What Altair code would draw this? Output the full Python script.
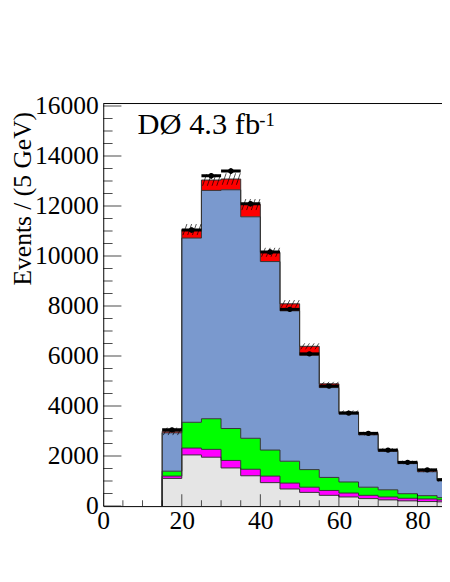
import altair as alt
import pandas as pd
import numpy as np

# bin edges (GeV)
edges = [15, 20, 25, 30, 35, 40, 45, 50, 55, 60, 65, 70, 75, 80, 85, 90]
# cumulative stack tops per bin
grey_top = [1108, 2047, 1956, 1526, 1213, 939, 685, 548, 430, 365, 300, 248, 209, 183, 170]
magenta_top = [1200, 2321, 2269, 1826, 1474, 1200, 920, 756, 626, 522, 430, 365, 313, 287, 248]
green_top = [1396, 3352, 3494, 3103, 2712, 2242, 1795, 1460, 1147, 965, 756, 652, 496, 418, 339]
blue_top = [2930, 10720, 12625, 12650, 11570, 9780, 7810, 6030, 4740, 3690, 2850, 2190, 1700, 1375, 1010]
red_top = [2990, 11060, 13040, 13080, 12060, 10150, 8090, 6390, 4890, 3760, 2900, 2250, 1750, 1430, 1050]
# systematic band half-width
band_unc = [150, 220, 230, 230, 220, 180, 150, 120, 80, 60, 60, 60, 60, 60, 60]
# data
data_vals = [3050, 11040, 13210, 13400, 12090, 10160, 7870, 6090, 4800, 3720, 2910, 2240, 1750, 1450, 1060]

x_ticks_major = [0, 20, 40, 60, 80]
y_ticks_major = [0, 2000, 4000, 6000, 8000, 10000, 12000, 14000, 16000]

comps = ["grey", "magenta", "green", "blue", "red"]
colors = ["#e5e5e5", "#ff00ff", "#00ff00", "#7a99ce", "#ff0000"]
tops = [grey_top, magenta_top, green_top, blue_top, red_top]

rows = []
for ci, name in enumerate(comps):
    hi = tops[ci]
    lo = [0] * len(hi) if ci == 0 else tops[ci - 1]
    idx = 0
    rows.append(dict(comp=name, idx=idx, x=edges[0], lo=0, hi=0, start=1)); idx += 1
    for i in range(len(hi)):
        rows.append(dict(comp=name, idx=idx, x=edges[i], lo=lo[i], hi=hi[i], start=0)); idx += 1
    rows.append(dict(comp=name, idx=idx, x=edges[-1], lo=lo[-1], hi=hi[-1], start=0))
step_df = pd.DataFrame(rows)

# hatch segments for band
hrows = []
for i in range(len(red_top)):
    lo_b = red_top[i] - band_unc[i]
    hi_b = red_top[i] + band_unc[i]
    for k in range(4):
        x0 = edges[i] + 0.3 + 1.2 * k
        hrows.append(dict(x=x0, x2=x0 + 1.0, y=lo_b, y2=hi_b))
hatch_df = pd.DataFrame(hrows)

data_df = pd.DataFrame(dict(
    x0=edges[:-1], x1=edges[1:],
    xc=[e + 2.5 for e in edges[:-1]],
    y=data_vals,
    ylo=[v - np.sqrt(v) for v in data_vals],
    yhi=[v + np.sqrt(v) for v in data_vals],
))

ytick_vals = list(range(0, 16001, 500))
ytick_df = pd.DataFrame(dict(v=ytick_vals, pos=0, len=[37 if v % 2000 == 0 else 19 for v in ytick_vals]))
xtick_vals = list(range(0, 86, 5))
xtick_df = pd.DataFrame(dict(v=xtick_vals, pos=0, len=[24 if v % 20 == 0 else 12 for v in xtick_vals]))

FONT = "Liberation Serif"
xs = alt.Scale(domain=[0, 86.25], nice=False, zero=False)
ys = alt.Scale(domain=[0, 16100], nice=False, zero=False)
xaxis = alt.Axis(values=x_ticks_major, ticks=False, grid=False, labelFlush=False, format="d",
                 labelFont=FONT, labelFontSize=26, labelColor="black", labelPadding=2,
                 domainColor="black", domainWidth=1, title=None, labelOverlap=False)
yaxis = alt.Axis(values=y_ticks_major, ticks=False, grid=False, format="d",
                 labelFont=FONT, labelFontSize=26, labelColor="black", labelPadding=5,
                 domainColor="black", domainWidth=1, labelOverlap=False,
                 title="Events / (5 GeV)", titleFont=FONT, titleFontSize=26,
                 titleFontWeight="normal", titleColor="black", titleX=-73.7, titleY=8,
                 titleAngle=270, titleAlign="right", titleBaseline="alphabetic")


def X(f):
    return alt.X(f, type="quantitative", scale=xs, axis=xaxis)


def Y(f):
    return alt.Y(f, type="quantitative", scale=ys, axis=yaxis, stack=None)


layers = []
for name, col in zip(comps, colors):
    sub = step_df[(step_df.comp == name) & (step_df.start == 0)]
    layers.append(
        alt.Chart(sub).mark_area(interpolate="step-after", clip=True, color=col, opacity=1).encode(
            x=X("x"), y=Y("hi"), y2="lo:Q",
        )
    )
lines = alt.Chart(step_df).mark_line(interpolate="step-after", clip=True, color="#333333", strokeWidth=1).encode(
    x=X("x"), y=Y("hi"), detail="comp:N", order="idx:Q",
)
hatch = alt.Chart(hatch_df).mark_rule(clip=True, color="black", strokeWidth=0.7).encode(
    x=X("x"), x2="x2:Q", y=Y("y"), y2="y2:Q",
)
dbar = alt.Chart(data_df).mark_rule(clip=True, color="black", strokeWidth=3).encode(
    x=X("x0"), x2="x1:Q", y=Y("y"),
)
derr = alt.Chart(data_df).mark_rule(clip=True, color="black", strokeWidth=1.5).encode(
    x=X("xc"), y=Y("ylo"), y2="yhi:Q",
)
dpt = alt.Chart(data_df).mark_circle(clip=True, color="black", size=30, opacity=1).encode(
    x=X("xc"), y=Y("y"),
)
yticks = alt.Chart(ytick_df).mark_tick(orient="horizontal", clip=True, color="black", thickness=1).encode(
    x=X("pos"), y=Y("v"), size=alt.Size("len:Q", scale=None),
)
xticks = alt.Chart(xtick_df).mark_tick(orient="vertical", clip=True, color="black", thickness=1).encode(
    x=X("v"), y=Y("pos"), size=alt.Size("len:Q", scale=None),
)
frame = alt.Chart(pd.DataFrame({"a": [0]})).mark_rule(color="black", strokeWidth=1).encode(
    x=alt.value(0), x2=alt.value(345), y=alt.value(0),
)
label1 = alt.Chart(pd.DataFrame({"t": ["DØ 4.3 fb"]})).mark_text(
    font=FONT, fontSize=31, align="left", baseline="alphabetic", color="black").encode(
    text="t:N", x=alt.value(35), y=alt.value(31))
label2 = alt.Chart(pd.DataFrame({"t": ["-1"]})).mark_text(
    font=FONT, fontSize=19, align="left", baseline="alphabetic", color="black").encode(
    text="t:N", x=alt.value(159), y=alt.value(23))

chart = alt.layer(*layers, lines, hatch, dbar, derr, dpt, yticks, xticks, frame, label1, label2).properties(
    width=345, height=410,
    autosize=alt.AutoSizeParams(type="none"),
    padding={"left": 97, "top": 92, "right": 0, "bottom": 72},
).configure_view(stroke=None)

chart.save("out.html", embed_options={"renderer": "svg", "actions": False})
